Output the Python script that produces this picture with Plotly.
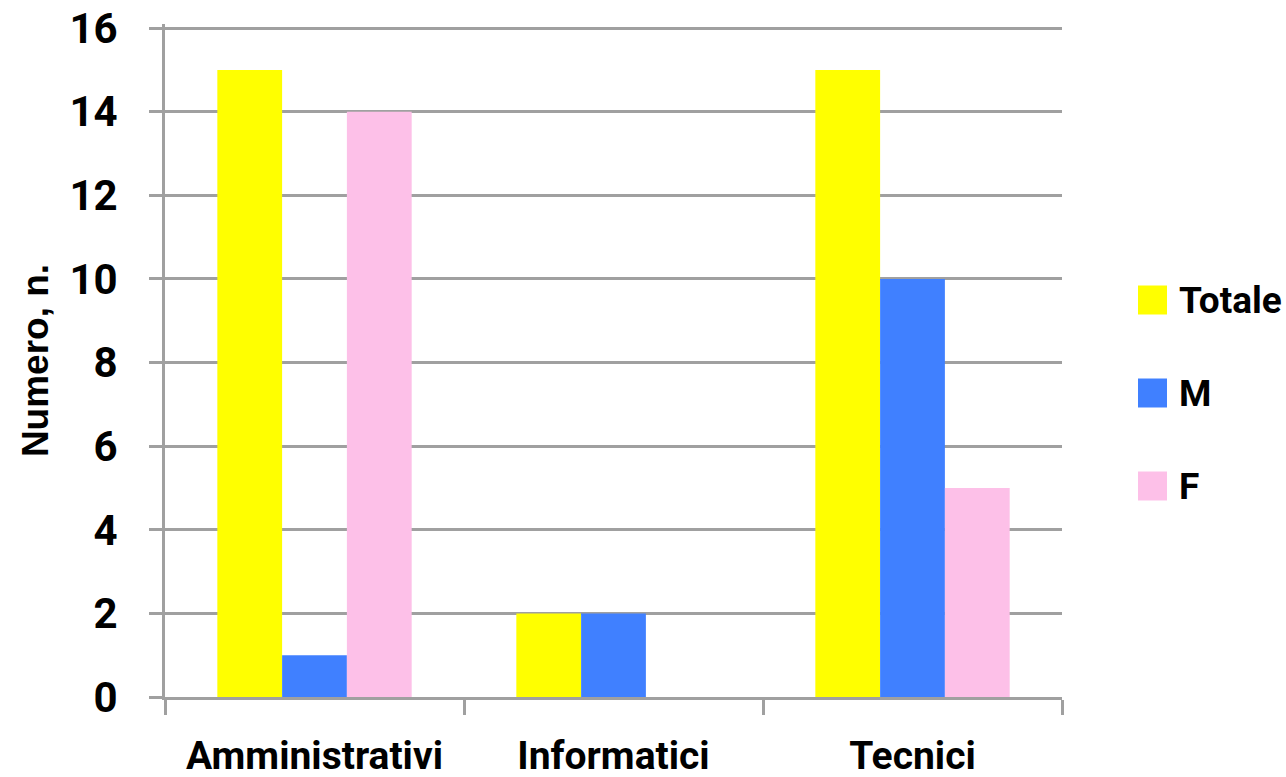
import plotly.graph_objects as go

# Dati
categorie = ["Amministrativi", "Informatici", "Tecnici"]
serie = ["Totale", "M", "F"]
totale = [15, 2, 15]
maschi = [1, 2, 10]
femmine = [14, 0, 5]
colori = ["#FFFF00", "#4080FF", "#FDC0E8"]
y_ticks = [0, 2, 4, 6, 8, 10, 12, 14, 16]

FONT_COND = "Roboto, Liberation Sans, sans-serif"
GRID = "#A0A0A0"

# area del grafico in pixel
W, H = 1286, 777
Y_MAX = 16.1  # un filo sopra 16 per far disegnare la griglia in alto
PX_UNIT = (697 - 28) / 16
L = 165
B = H - 697
T = H - B - round(PX_UNIT * Y_MAX)
R = W - 1062
PW, PH = W - L - R, H - T - B


def px_x(px):
    return (px - L) / PW


def px_y(py):
    return (H - B - py) / PH


fig = go.Figure()
for nome, valori, col in zip(serie, [totale, maschi, femmine], colori):
    fig.add_trace(go.Bar(
        x=categorie, y=valori, name=nome,
        marker=dict(color=col, line=dict(width=0)),
        showlegend=False
    ))

# legenda manuale (quadrati grandi come nel riferimento)
shapes = []
annotations = []
for i, (nome, col) in enumerate(zip(serie, colori)):
    cy = 300 + i * 93
    shapes.append(dict(
        type="rect", xref="paper", yref="paper",
        x0=px_x(1138), x1=px_x(1167), y0=px_y(cy + 14.5), y1=px_y(cy - 14.5),
        fillcolor=col, line=dict(width=0)
    ))
    annotations.append(dict(
        text=nome, xref="paper", yref="paper",
        x=px_x(1177), y=px_y(cy), xanchor="left", yanchor="middle",
        showarrow=False,
        font=dict(family=FONT_COND, size=37, weight="bold", color="black")
    ))

fig.update_layout(
    width=W, height=H,
    margin=dict(l=L, r=R, t=T, b=B),
    paper_bgcolor="white", plot_bgcolor="white",
    barmode="group", bargap=0.35, bargroupgap=0,
    shapes=shapes, annotations=annotations,
    font=dict(family=FONT_COND, color="black"),
)
fig.update_xaxes(
    automargin=False, tickangle=0,
    showline=True, linecolor=GRID, linewidth=3,
    ticks="outside", tickson="boundaries", ticklen=15, tickwidth=3, tickcolor=GRID,
    tickfont=dict(family=FONT_COND, size=39, weight="bold", color="black"),
    ticklabelstandoff=22,
    showgrid=False,
)
fig.update_yaxes(
    automargin=False,
    range=[0, Y_MAX], tickvals=y_ticks,
    showline=True, linecolor=GRID, linewidth=3,
    showgrid=True, gridcolor=GRID, gridwidth=3, zeroline=False,
    ticks="outside", ticklen=13, tickwidth=3, tickcolor=GRID,
    tickfont=dict(family=FONT_COND, size=42, weight="bold", color="black"),
    ticklabelstandoff=23,
    title=dict(text="Numero, n.", standoff=10,
               font=dict(family="Liberation Sans, Arial, sans-serif", size=37,
                         weight="bold", color="black")),
)

# niente margine della pagina: il grafico parte dall'angolo in alto a sinistra
fig.write_html("out.html", config={"displayModeBar": False},
               post_script="document.body.style.margin = '0';")
